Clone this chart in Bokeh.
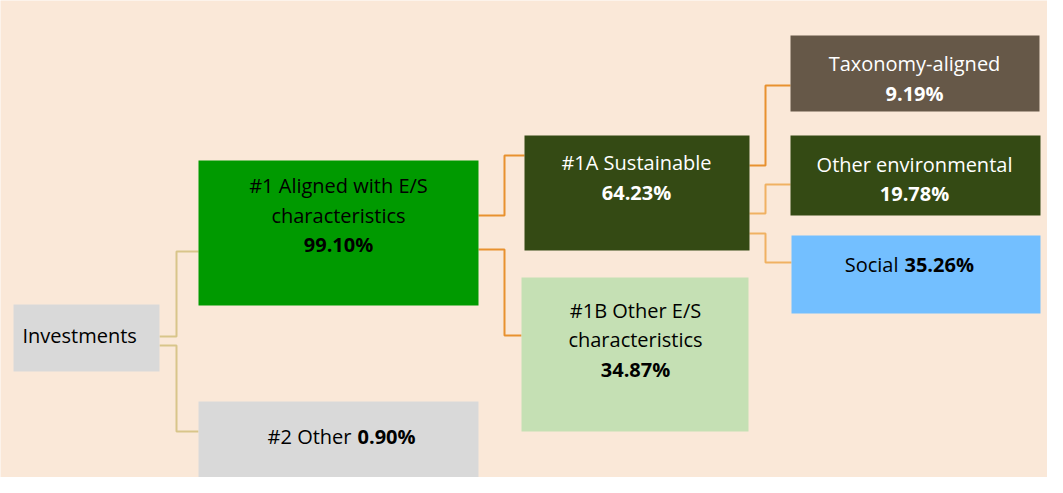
from bokeh.plotting import figure
from bokeh.models import Range1d, ColumnDataSource
from bokeh.core.properties import value
from bokeh.embed import file_html
from bokeh.resources import INLINE

# ---- data ----
node_names = ["Investments", "#1 Aligned with E/S characteristics", "#2 Other",
              "#1A Sustainable", "#1B Other E/S characteristics",
              "Taxonomy-aligned", "Other environmental", "Social"]
node_shares = [None, 99.10, 0.90, 64.23, 34.87, 9.19, 19.78, 35.26]
node_parent = [None, 0, 0, 1, 1, 3, 3, 3]

# ---- layout (reference pixel space) ----
BG = "#FAE8D8"
box_left = [21, 206, 206, 532, 529, 798, 798, 799]
box_right = [167, 486, 486, 757, 756, 1047, 1048, 1048]
box_top = [312, 168, 409, 143, 285, 43, 143, 243]
box_bottom = [379, 313, 500, 258, 439, 119, 223, 321]
box_fill = ["#D9D9D9", "#009A00", "#D9D9D9", "#344A14", "#C5E0B4", "#665848", "#344A14", "#73BFFF"]
text_col = ["#000000", "#000000", "#000000", "#FFFFFF", "#000000", "#FFFFFF", "#FFFFFF", "#000000"]

FONT = value("Open Sans")
FS = "20px"

p = figure(width=1047, height=477, output_backend="svg", toolbar_location=None,
           x_range=Range1d(8, 1055), y_range=Range1d(485, 8), min_border=0)
p.axis.visible = False
p.grid.visible = False
p.outline_line_color = None
p.background_fill_color = BG
p.border_fill_color = BG

# connectors (elbows)
conn_xs = [[167, 184, 184, 206], [167, 184, 184, 206],
           [486, 512, 512, 532], [486, 512, 512, 529],
           [757, 773, 773, 798], [757, 773, 773, 798], [757, 773, 773, 799]]
conn_ys = [[344, 344, 259, 259], [353, 353, 439, 439],
           [223, 223, 163, 163], [257, 257, 343, 343],
           [173, 173, 93, 93], [221, 221, 192, 192], [241, 241, 270, 270]]
conn_col = ["#D8C58A", "#D8C58A", "#E8912F", "#E8912F", "#E8912F", "#F0B162", "#F0B162"]
p.multi_line(xs=conn_xs, ys=conn_ys, line_color=conn_col, line_width=2)

src = ColumnDataSource(dict(left=box_left, right=box_right, top=box_top,
                            bottom=box_bottom, fill=box_fill))
p.quad(left="left", right="right", top="top", bottom="bottom", fill_color="fill",
       line_color=None, source=src)

def fmt(v):
    return f"{v:.2f}%"

# stacked label lines: (node, x, [y lines for name parts], y for share)
name_lines = {
    1: ["#1 Aligned with E/S", "characteristics"],
    3: ["#1A Sustainable"],
    4: ["#1B Other E/S", "characteristics"],
    5: ["Taxonomy-aligned"],
    6: ["Other environmental"],
}
line_pos = {
    1: (346, [193, 223], 252),
    3: (644, [170], 200),
    4: (643, [318, 347], 377),
    5: (922, [71], 101),
    6: (922, [172], 201),
}
for i, lines in name_lines.items():
    cx, ys, ysh = line_pos[i]
    for t, yy in zip(lines, ys):
        p.text(x=[cx], y=[yy], text=[t], text_font=FONT, text_font_size=FS,
               text_align="center", text_baseline="middle", text_color=text_col[i])
    p.text(x=[cx], y=[ysh], text=[fmt(node_shares[i])], text_font=FONT, text_font_size=FS,
           text_font_style="bold", text_align="center", text_baseline="middle",
           text_color=text_col[i])

# single-line mixed labels: name normal + share bold
inline_pos = {2: (359, 365, 444), 7: (906, 912, 272)}
for i, (xr, xl, yy) in inline_pos.items():
    p.text(x=[xr], y=[yy], text=[node_names[i]], text_font=FONT, text_font_size=FS,
           text_align="right", text_baseline="middle", text_color=text_col[i])
    p.text(x=[xl], y=[yy], text=[fmt(node_shares[i])], text_font=FONT, text_font_size=FS,
           text_font_style="bold", text_align="left", text_baseline="middle",
           text_color=text_col[i])

# root label
p.text(x=[30], y=[343], text=[node_names[0]], text_font=FONT, text_font_size=FS,
       text_align="left", text_baseline="middle", text_color=text_col[0])

open("out.html", "w").write(file_html(p, INLINE))
